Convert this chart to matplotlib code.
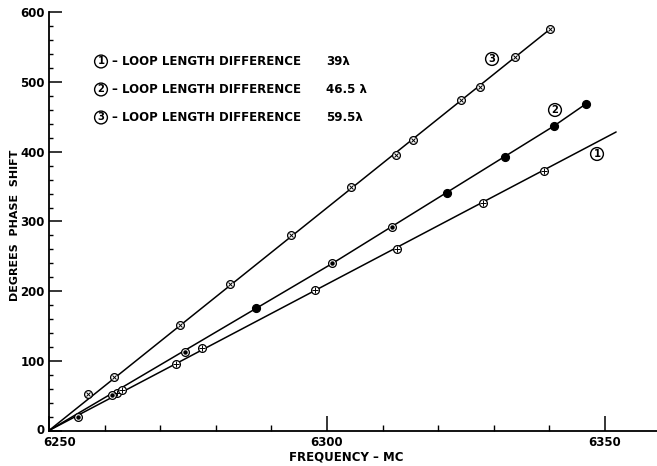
import matplotlib
matplotlib.use('Agg')
import matplotlib.pyplot as plt
from matplotlib.ticker import MultipleLocator, FixedLocator
from matplotlib.transforms import ScaledTranslation

plt.rcParams['font.family'] = ['DejaVu Sans']
plt.rcParams['font.weight'] = 'bold'

# ---- data ----
line1_x = [6262.2, 6263.1, 6272.8, 6277.5, 6297.9, 6312.6, 6328.0, 6339.1]
line1_y = [54, 58, 95, 119, 201, 261, 327, 373]
line1_path_x = [6250, 6352.0]
line1_path_y = [0, 428.5]

line2_x = [6255.2, 6261.3, 6274.4, 6300.9, 6311.7]
line2_y = [19, 51, 112, 240, 292]
line2_filled_x = [6287.2, 6321.5, 6332.1, 6340.8, 6346.6]
line2_filled_y = [176, 341, 393, 437, 469]
line2_path_x = [6250, 6301.0, 6340.8, 6346.6]
line2_path_y = [0, 240, 437, 469]

line3_x = [6257.1, 6261.7, 6273.6, 6282.6, 6293.5, 6304.4, 6312.5, 6315.4,
           6324.1, 6327.5, 6333.8, 6340.1]
line3_y = [52, 77, 152, 210, 280, 349, 395, 417, 475, 493, 536, 576]
line3_path_x = [6250, 6340.1]
line3_path_y = [0, 576]

legend_nums = ['1', '2', '3']
legend_texts = ['– LOOP LENGTH DIFFERENCE', '– LOOP LENGTH DIFFERENCE',
                '– LOOP LENGTH DIFFERENCE']
legend_vals = ['39λ', '46.5 λ', '59.5λ']

x_major = [6250, 6300, 6350]
y_major = [0, 100, 200, 300, 400, 500, 600]

# ---- figure ----
W, H = 657, 466
fig = plt.figure(figsize=(W / 100, H / 100), dpi=100)
ax = fig.add_axes([49 / W, (H - 430.5) / H, (W - 49) / W, (430.5 - 12.5) / H])
ax.set_xlim(6250, 6250 + (W - 49) / 5.56)
ax.set_ylim(0, 600)

for s in ['top', 'right']:
    ax.spines[s].set_visible(False)
for s in ['left', 'bottom']:
    ax.spines[s].set_linewidth(1.3)

lk = dict(color='black', lw=1.1, solid_capstyle='round')
ax.plot(line1_path_x, line1_path_y, **lk)
ax.plot(line2_path_x, line2_path_y, **lk)
ax.plot(line3_path_x, line3_path_y, **lk)

ms = 5.6
# line 1 markers: circle with plus
ax.plot(line1_x, line1_y, 'o', ms=ms, mfc='white', mec='black', mew=0.9, zorder=3)
ax.plot(line1_x, line1_y, '+', ms=4.6, color='black', mew=0.7, zorder=4)
# line 2 markers: circle with dot, some filled
ax.plot(line2_x, line2_y, 'o', ms=ms, mfc='white', mec='black', mew=0.9, zorder=3)
ax.plot(line2_x, line2_y, 'o', ms=2.2, color='black', zorder=4)
ax.plot(line2_filled_x, line2_filled_y, 'o', ms=ms, mfc='black', mec='black', zorder=3)
# line 3 markers: circle with x
ax.plot(line3_x, line3_y, 'o', ms=ms, mfc='white', mec='black', mew=0.9, zorder=3)
ax.plot(line3_x, line3_y, 'x', ms=3.3, color='black', mew=0.7, zorder=4)

ax.xaxis.set_major_locator(FixedLocator(x_major))
ax.xaxis.set_minor_locator(MultipleLocator(10))
ax.yaxis.set_major_locator(FixedLocator(y_major))
ax.yaxis.set_minor_locator(MultipleLocator(20))
ax.tick_params(axis='x', which='major', direction='in', length=11, width=1.1,
               labelsize=8.5, pad=4)
ax.tick_params(axis='x', which='minor', direction='in', length=4.5, width=1.0)
ax.tick_params(axis='y', which='major', direction='in', length=9.5, width=1.1,
               labelsize=8.5, pad=3)
ax.tick_params(axis='y', which='minor', direction='in', length=3, width=1.0)

# shift the first x tick label right and the "0" label up a little
t0 = ax.xaxis.get_major_ticks()[0].label1
t0.set_transform(t0.get_transform() + ScaledTranslation(11 / 100, 0, fig.dpi_scale_trans))
y0 = ax.yaxis.get_major_ticks()[0].label1
y0.set_transform(y0.get_transform() + ScaledTranslation(0, 2 / 100, fig.dpi_scale_trans))

def px(x, y):
    return x / W, 1 - y / H

# axis titles
fig.text(*px(346, 457), 'FREQUENCY – MC', ha='center', va='center', fontsize=8.5)
fig.text(*px(15, 225), 'DEGREES  PHASE  SHIFT', ha='center', va='center',
         rotation=90, fontsize=8)

# legend block
circ = dict(boxstyle='circle,pad=0.14', fc='none', ec='black', lw=1.0)
rows_y = [61.5, 89.5, 117.5]
for n, t, v, yy in zip(legend_nums, legend_texts, legend_vals, rows_y):
    fig.text(*px(101, yy), n, ha='center', va='center', fontsize=7.2, bbox=circ)
    fig.text(*px(112, yy), t, ha='left', va='center', fontsize=8.5)
    fig.text(*px(326, yy), v, ha='left', va='center', fontsize=8.5)

# curve labels
fig.text(*px(492, 59), '3', ha='center', va='center', fontsize=7.2, bbox=circ)
fig.text(*px(555, 110), '2', ha='center', va='center', fontsize=7.2, bbox=circ)
fig.text(*px(597, 154), '1', ha='center', va='center', fontsize=7.2, bbox=circ)

fig.savefig('out.png', dpi=100)
